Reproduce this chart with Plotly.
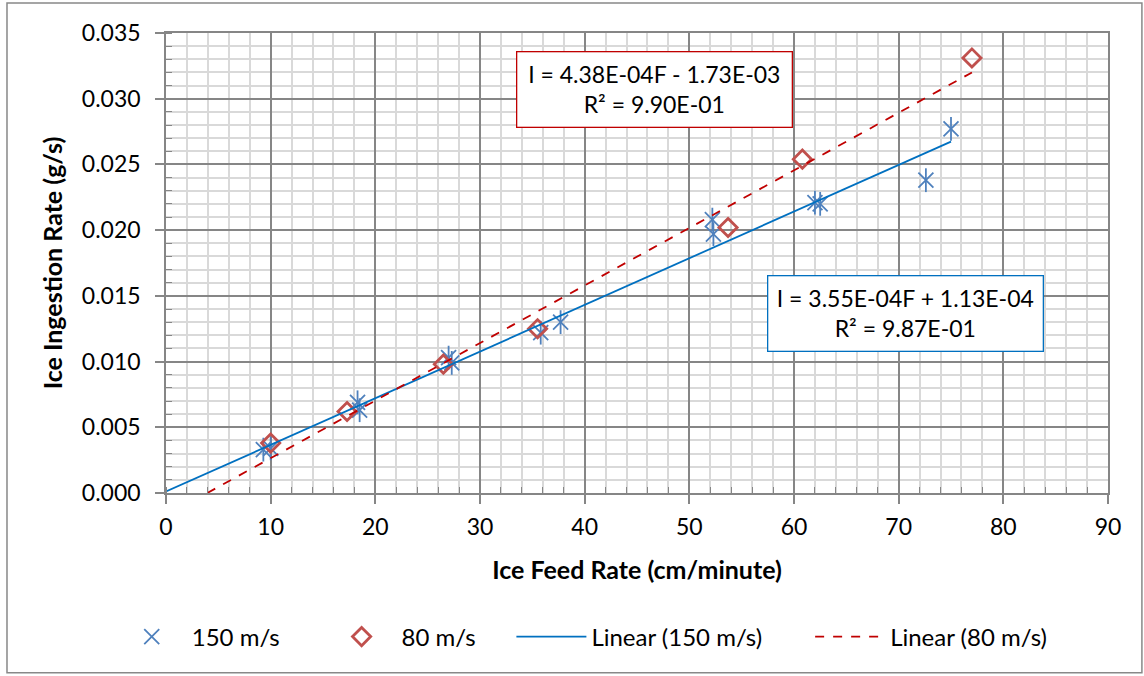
import numpy as np
import plotly.graph_objects as go

# 150 m/s data
feed_150 = [9.3, 10.0, 18.3, 18.5, 27.0, 27.3, 35.8, 37.7, 52.2, 52.3, 62.0, 62.5, 72.6, 75.0]
ingest_150 = [0.0033, 0.0034, 0.0069, 0.0063, 0.0103, 0.0099, 0.0122, 0.0130, 0.0208, 0.0197, 0.0221, 0.0220, 0.0238, 0.0277]
# 80 m/s data
feed_80 = [10.0, 17.3, 26.5, 35.5, 53.7, 60.8, 77.0]
ingest_80 = [0.0038, 0.0062, 0.0098, 0.0125, 0.0202, 0.0254, 0.0331]

# trendline coefficients (from labels)
slope_150, icpt_150 = 3.55e-4, 1.13e-4
slope_80, icpt_80 = 4.38e-4, -1.73e-3
eq_150 = "I = 3.55E-04F + 1.13E-04<br>R² = 9.87E-01"
eq_80 = "I = 4.38E-04F - 1.73E-03<br>R² = 9.90E-01"

names = ["150 m/s", "80 m/s", "Linear (150 m/s)", "Linear (80 m/s)"]
NB = "\u00a0"
pad_after = [6, 5, 7, 0]  # spacing between legend entries
legend_names = [n + NB * p for n, p in zip(names, pad_after)]

FONT = "Lato"
blue_m = "#4F81BD"
red_m = "#C0504D"
blue_l = "#0070C0"
red_l = "#C00000"

fig = go.Figure()
fig.add_trace(go.Scatter(x=feed_150, y=ingest_150, mode="markers", name=legend_names[0],
                         marker=dict(symbol="x-thin-open", size=15, color=blue_m,
                                     line=dict(color=blue_m, width=1.8))))
fig.add_trace(go.Scatter(x=feed_150, y=ingest_150, mode="markers", showlegend=False,
                         hoverinfo="skip",
                         marker=dict(symbol="line-ns-open", size=17, color=blue_m,
                                     line=dict(color=blue_m, width=1.8))))
fig.add_trace(go.Scatter(x=feed_80, y=ingest_80, mode="markers", name=legend_names[1],
                         marker=dict(symbol="diamond-open", size=14, color=red_m,
                                     line=dict(color=red_m, width=2.8))))
xl150 = np.array([0.0, max(feed_150)])
fig.add_trace(go.Scatter(x=xl150, y=slope_150 * xl150 + icpt_150, mode="lines",
                         name=legend_names[2], line=dict(color=blue_l, width=1.8)))
x0_80 = -icpt_80 / slope_80
xl80 = np.array([x0_80, max(feed_80)])
fig.add_trace(go.Scatter(x=xl80, y=slope_80 * xl80 + icpt_80, mode="lines",
                         name=legend_names[3], line=dict(color=red_l, width=1.8, dash="dash")))

fig.add_annotation(x=46.65, y=0.03067, xref="x", yref="y", text=eq_80, showarrow=False,
                   font=dict(family=FONT, size=23, color="black"), align="center",
                   bordercolor=red_l, borderwidth=1.3, bgcolor="white",
                   width=268, height=68, borderpad=3)
fig.add_annotation(x=70.65, y=0.01366, xref="x", yref="y", text=eq_150, showarrow=False,
                   font=dict(family=FONT, size=23, color="black"), align="center",
                   bordercolor=blue_l, borderwidth=1.3, bgcolor="white",
                   width=268, height=68, borderpad=3)

# outer chart border
fig.add_shape(type="rect", xref="paper", yref="paper", x0=-0.1688, x1=1.036, y0=-0.391, y1=1.065,
              line=dict(color="#888888", width=1.5), layer="below")

axis_common = dict(showline=True, linecolor="#868686", linewidth=1.5, mirror=True,
                   gridcolor="#868686", gridwidth=1.5, zeroline=False,
                   ticks="outside", ticklen=9, tickcolor="#868686", tickwidth=1.5,
                   tickfont=dict(family=FONT, size=23, color="black"))

fig.update_xaxes(range=[0, 90], dtick=10, tick0=0, ticklabelstandoff=4,
                 title=dict(text="<b>Ice Feed Rate (cm/minute)</b>", font=dict(family=FONT, size=25, color="black"), standoff=22),
                 minor=dict(dtick=2, showgrid=True, gridcolor="#D9D9D9", gridwidth=1.5,
                            ticks="inside", ticklen=6, tickcolor="#868686", tickwidth=1.3),
                 **axis_common)
fig.update_yaxes(range=[0, 0.035], dtick=0.005, tick0=0, tickformat=".3f", ticklabelstandoff=10,
                 title=dict(text="<b>Ice Ingestion Rate (g/s)</b>", font=dict(family=FONT, size=25, color="black"), standoff=12),
                 minor=dict(dtick=0.001, showgrid=True, gridcolor="#D9D9D9", gridwidth=1.5,
                            ticks="inside", ticklen=6, tickcolor="#868686", tickwidth=1.3),
                 **axis_common)

fig.update_layout(
    width=1144, height=676,
    margin=dict(l=166, r=36, t=33, b=183),
    paper_bgcolor="white", plot_bgcolor="white",
    font=dict(family=FONT, size=20, color="black"),
    showlegend=True,
    legend=dict(orientation="h", x=-0.0576, xanchor="left", y=-0.313, yanchor="middle",
                font=dict(family=FONT, size=24, color="black"),
                itemwidth=70,
                bgcolor="rgba(0,0,0,0)"),
)

fig.write_html("out.html")
